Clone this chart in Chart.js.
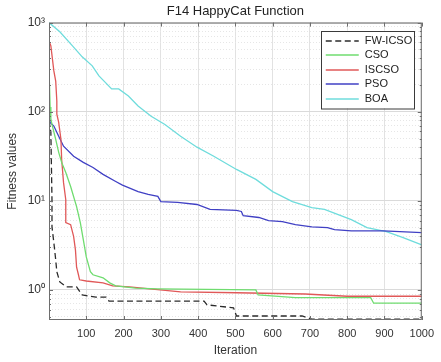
<!DOCTYPE html>
<html>
<head>
<meta charset="utf-8">
<script src="https://cdn.jsdelivr.net/npm/chart.js@4.4.1/dist/chart.umd.min.js"></script>
<style>
  html, body { margin: 0; padding: 0; background: #fff; }
  #wrap { width: 441px; height: 362px; }
</style>
</head>
<body>
<div id="wrap"><canvas id="chart"></canvas></div>
<script>
// axis ticks
const xTicks = [100, 200, 300, 400, 500, 600, 700, 800, 900, 1000];
const yMajor = [1, 10, 100, 1000];
const yLabels = ['10⁰', '10¹', '10²', '10³'];
const yMinor = [0.5, 0.6, 0.7, 0.8, 0.9, 2, 3, 4, 5, 6, 7, 8, 9, 20, 30, 40, 50, 60, 70, 80, 90, 200, 300, 400, 500, 600, 700, 800, 900];

// series
const fwIter = [0, 5, 8, 8, 13, 18, 21, 29, 47, 74, 89, 126, 153, 161, 416, 424, 495, 503, 679, 705, 1000];
const fwVals = [80, 59, 10.3, 5.1, 3.4, 2.18, 1.6, 1.23, 1.08, 1.08, 0.88, 0.83, 0.83, 0.75, 0.75, 0.68, 0.63, 0.51, 0.51, 0.47, 0.47];

const csoIter = [0, 1, 3, 5, 8, 18, 26, 34, 45, 58, 74, 84, 92, 100, 111, 118, 145, 163, 179, 232, 292, 555, 561, 661, 863, 871, 1000];
const csoVals = [470, 221, 113, 83, 72, 49, 35, 27, 20.8, 14.5, 8.6, 5.7, 3.66, 2.35, 1.6, 1.48, 1.37, 1.2, 1.11, 1.05, 1.03, 1.0, 0.88, 0.82, 0.82, 0.71, 0.71];

const iscsoIter = [0, 5, 13, 18, 21, 21, 26, 32, 34, 39, 45, 45, 58, 66, 71, 74, 79, 82, 100, 145, 171, 216, 250, 353, 503, 687, 800, 1000];
const iscsoVals = [625, 549, 287, 221, 132, 94, 76, 49, 29, 16, 10.3, 5.7, 5.4, 4.0, 2.8, 1.8, 1.48, 1.30, 1.26, 1.20, 1.11, 1.08, 1.05, 0.95, 0.93, 0.90, 0.85, 0.85];

const psoIter = [0, 3, 13, 26, 39, 66, 92, 118, 145, 179, 197, 239, 266, 292, 300, 345, 397, 432, 503, 516, 521, 563, 589, 626, 661, 705, 747, 766, 811, 897, 1000];
const psoVals = [101, 76, 69, 53, 41, 31.6, 27, 23.7, 19.8, 16.5, 15, 12.7, 11.8, 11.2, 9.8, 9.6, 9.1, 8.0, 7.8, 7.6, 6.8, 6.5, 6.0, 5.85, 5.4, 5.1, 5.0, 4.75, 4.6, 4.6, 4.4];

const boaIter = [0, 29, 63, 89, 116, 134, 168, 187, 213, 239, 274, 311, 353, 397, 442, 503, 555, 600, 653, 705, 739, 811, 853, 905, 950, 1000];
const boaVals = [1000, 789, 548, 413, 327, 252, 180, 180, 150, 116, 89, 72, 53, 40, 31.6, 22.5, 17.4, 12.7, 9.8, 8.4, 8.0, 6.15, 5.0, 4.5, 3.86, 3.2];

const FONT = '"Liberation Sans", Arial, Helvetica, sans-serif';

function pts(xs, ys) {
    return xs.map((x, i) => ({ x: x, y: ys[i] }));
}

function series(label, xs, ys, color, dash) {
    return {
        label: label,
        data: pts(xs, ys),
        borderColor: color,
        borderWidth: 1.3,
        borderDash: dash || [],
        pointRadius: 0,
        tension: 0,
        fill: false
    };
}

function isMajor(v) {
    return yMajor.indexOf(v) >= 0;
}

// box, inner tick marks and legend, MATLAB style
const framePlugin = {
    id: 'frame',
    afterDraw(chart) {
        const ctx = chart.ctx;
        const a = chart.chartArea;
        const xs = chart.scales.x, ys = chart.scales.y;
        ctx.save();
        ctx.strokeStyle = '#6e6e6e';
        ctx.lineWidth = 1;
        ctx.setLineDash([]);
        ctx.strokeRect(a.left + 0.5, a.top + 0.5, a.right - a.left - 1, a.bottom - a.top - 1);
        ctx.beginPath();
        xTicks.forEach(v => {
            const px = Math.round(xs.getPixelForValue(v)) + 0.5;
            ctx.moveTo(px, a.bottom); ctx.lineTo(px, a.bottom - 4);
            ctx.moveTo(px, a.top); ctx.lineTo(px, a.top + 4);
        });
        yMajor.concat(yMinor).forEach(v => {
            const py = Math.round(ys.getPixelForValue(v)) + 0.5;
            const len = isMajor(v) ? 4 : 2;
            ctx.moveTo(a.left, py); ctx.lineTo(a.left + len, py);
            ctx.moveTo(a.right, py); ctx.lineTo(a.right - len, py);
        });
        ctx.stroke();

        // legend
        const w = 93, rowH = 14.5;
        const n = chart.data.datasets.length;
        const h = n * rowH + 5;
        const lx = a.right - 8 - w, ly = a.top + 8;
        ctx.fillStyle = '#fff';
        ctx.fillRect(lx, ly, w, h);
        ctx.strokeStyle = '#3a3a3a';
        ctx.strokeRect(Math.round(lx) + 0.5, Math.round(ly) + 0.5, w, h);
        ctx.font = '11px ' + FONT;
        ctx.textBaseline = 'middle';
        ctx.textAlign = 'left';
        chart.data.datasets.forEach((ds, i) => {
            const y = Math.round(ly + 10 + i * rowH);
            ctx.strokeStyle = ds.borderColor;
            ctx.lineWidth = 1.5;
            ctx.setLineDash(ds.borderDash || []);
            ctx.beginPath();
            ctx.moveTo(lx + 5, y);
            ctx.lineTo(lx + 38, y);
            ctx.stroke();
            ctx.setLineDash([]);
            ctx.fillStyle = '#222';
            ctx.fillText(ds.label, lx + 44, y);
        });
        ctx.restore();
    }
};

new Chart(document.getElementById('chart').getContext('2d'), {
    type: 'line',
    data: {
        datasets: [
            series('FW-ICSO', fwIter, fwVals, '#2b2b2b', [6, 3.5]),
            series('CSO', csoIter, csoVals, '#6fdc6f'),
            series('ISCSO', iscsoIter, iscsoVals, '#e05858'),
            series('PSO', psoIter, psoVals, '#4040c4'),
            series('BOA', boaIter, boaVals, '#6fdcdc')
        ]
    },
    options: {
        responsive: true,
        maintainAspectRatio: false,
        animation: false,
        layout: { padding: { left: 0, right: 12, top: 0, bottom: 0 } },
        plugins: {
            legend: { display: false },
            tooltip: { enabled: false },
            title: {
                display: true,
                text: 'F14 HappyCat Function',
                fullSize: false,
                color: '#222',
                font: { family: FONT, size: 13, weight: 'normal' },
                padding: { top: 4, bottom: 3 }
            }
        },
        scales: {
            x: {
                type: 'linear',
                min: 0,
                max: 1000,
                afterBuildTicks: s => { s.ticks = xTicks.map(v => ({ value: v })); },
                afterFit: s => { s.height = 42; },
                grid: { color: '#e2e2e2', drawTicks: false },
                border: { display: false },
                ticks: {
                    color: '#333',
                    font: { family: FONT, size: 11 },
                    padding: 7,
                    maxRotation: 0,
                    autoSkip: false,
                    callback: v => String(v)
                },
                title: { display: true, text: 'Iteration', color: '#333', font: { family: FONT, size: 12 }, padding: { top: 0, bottom: 4 } }
            },
            y: {
                type: 'logarithmic',
                min: 0.46,
                max: 1000,
                afterBuildTicks: s => {
                    s.ticks = yMinor.concat(yMajor).sort((p, q) => p - q).map(v => ({ value: v, major: isMajor(v) }));
                },
                afterFit: s => { s.width = 49; },
                grid: {
                    color: c => (c.tick && isMajor(c.tick.value)) ? '#dadada' : '#e6e6e6',
                    drawTicks: false
                },
                border: {
                    display: false,
                    dash: c => (c.tick && isMajor(c.tick.value)) ? [] : [1, 2]
                },
                ticks: {
                    color: '#333',
                    font: { family: FONT, size: 12 },
                    padding: 4,
                    autoSkip: false,
                    callback: v => { const i = yMajor.indexOf(v); return i >= 0 ? yLabels[i] : ''; }
                },
                title: { display: true, text: 'Fitness values', color: '#333', font: { family: FONT, size: 12 }, padding: { top: 5, bottom: 0 } }
            }
        }
    },
    plugins: [framePlugin]
});
</script>
</body>
</html>
